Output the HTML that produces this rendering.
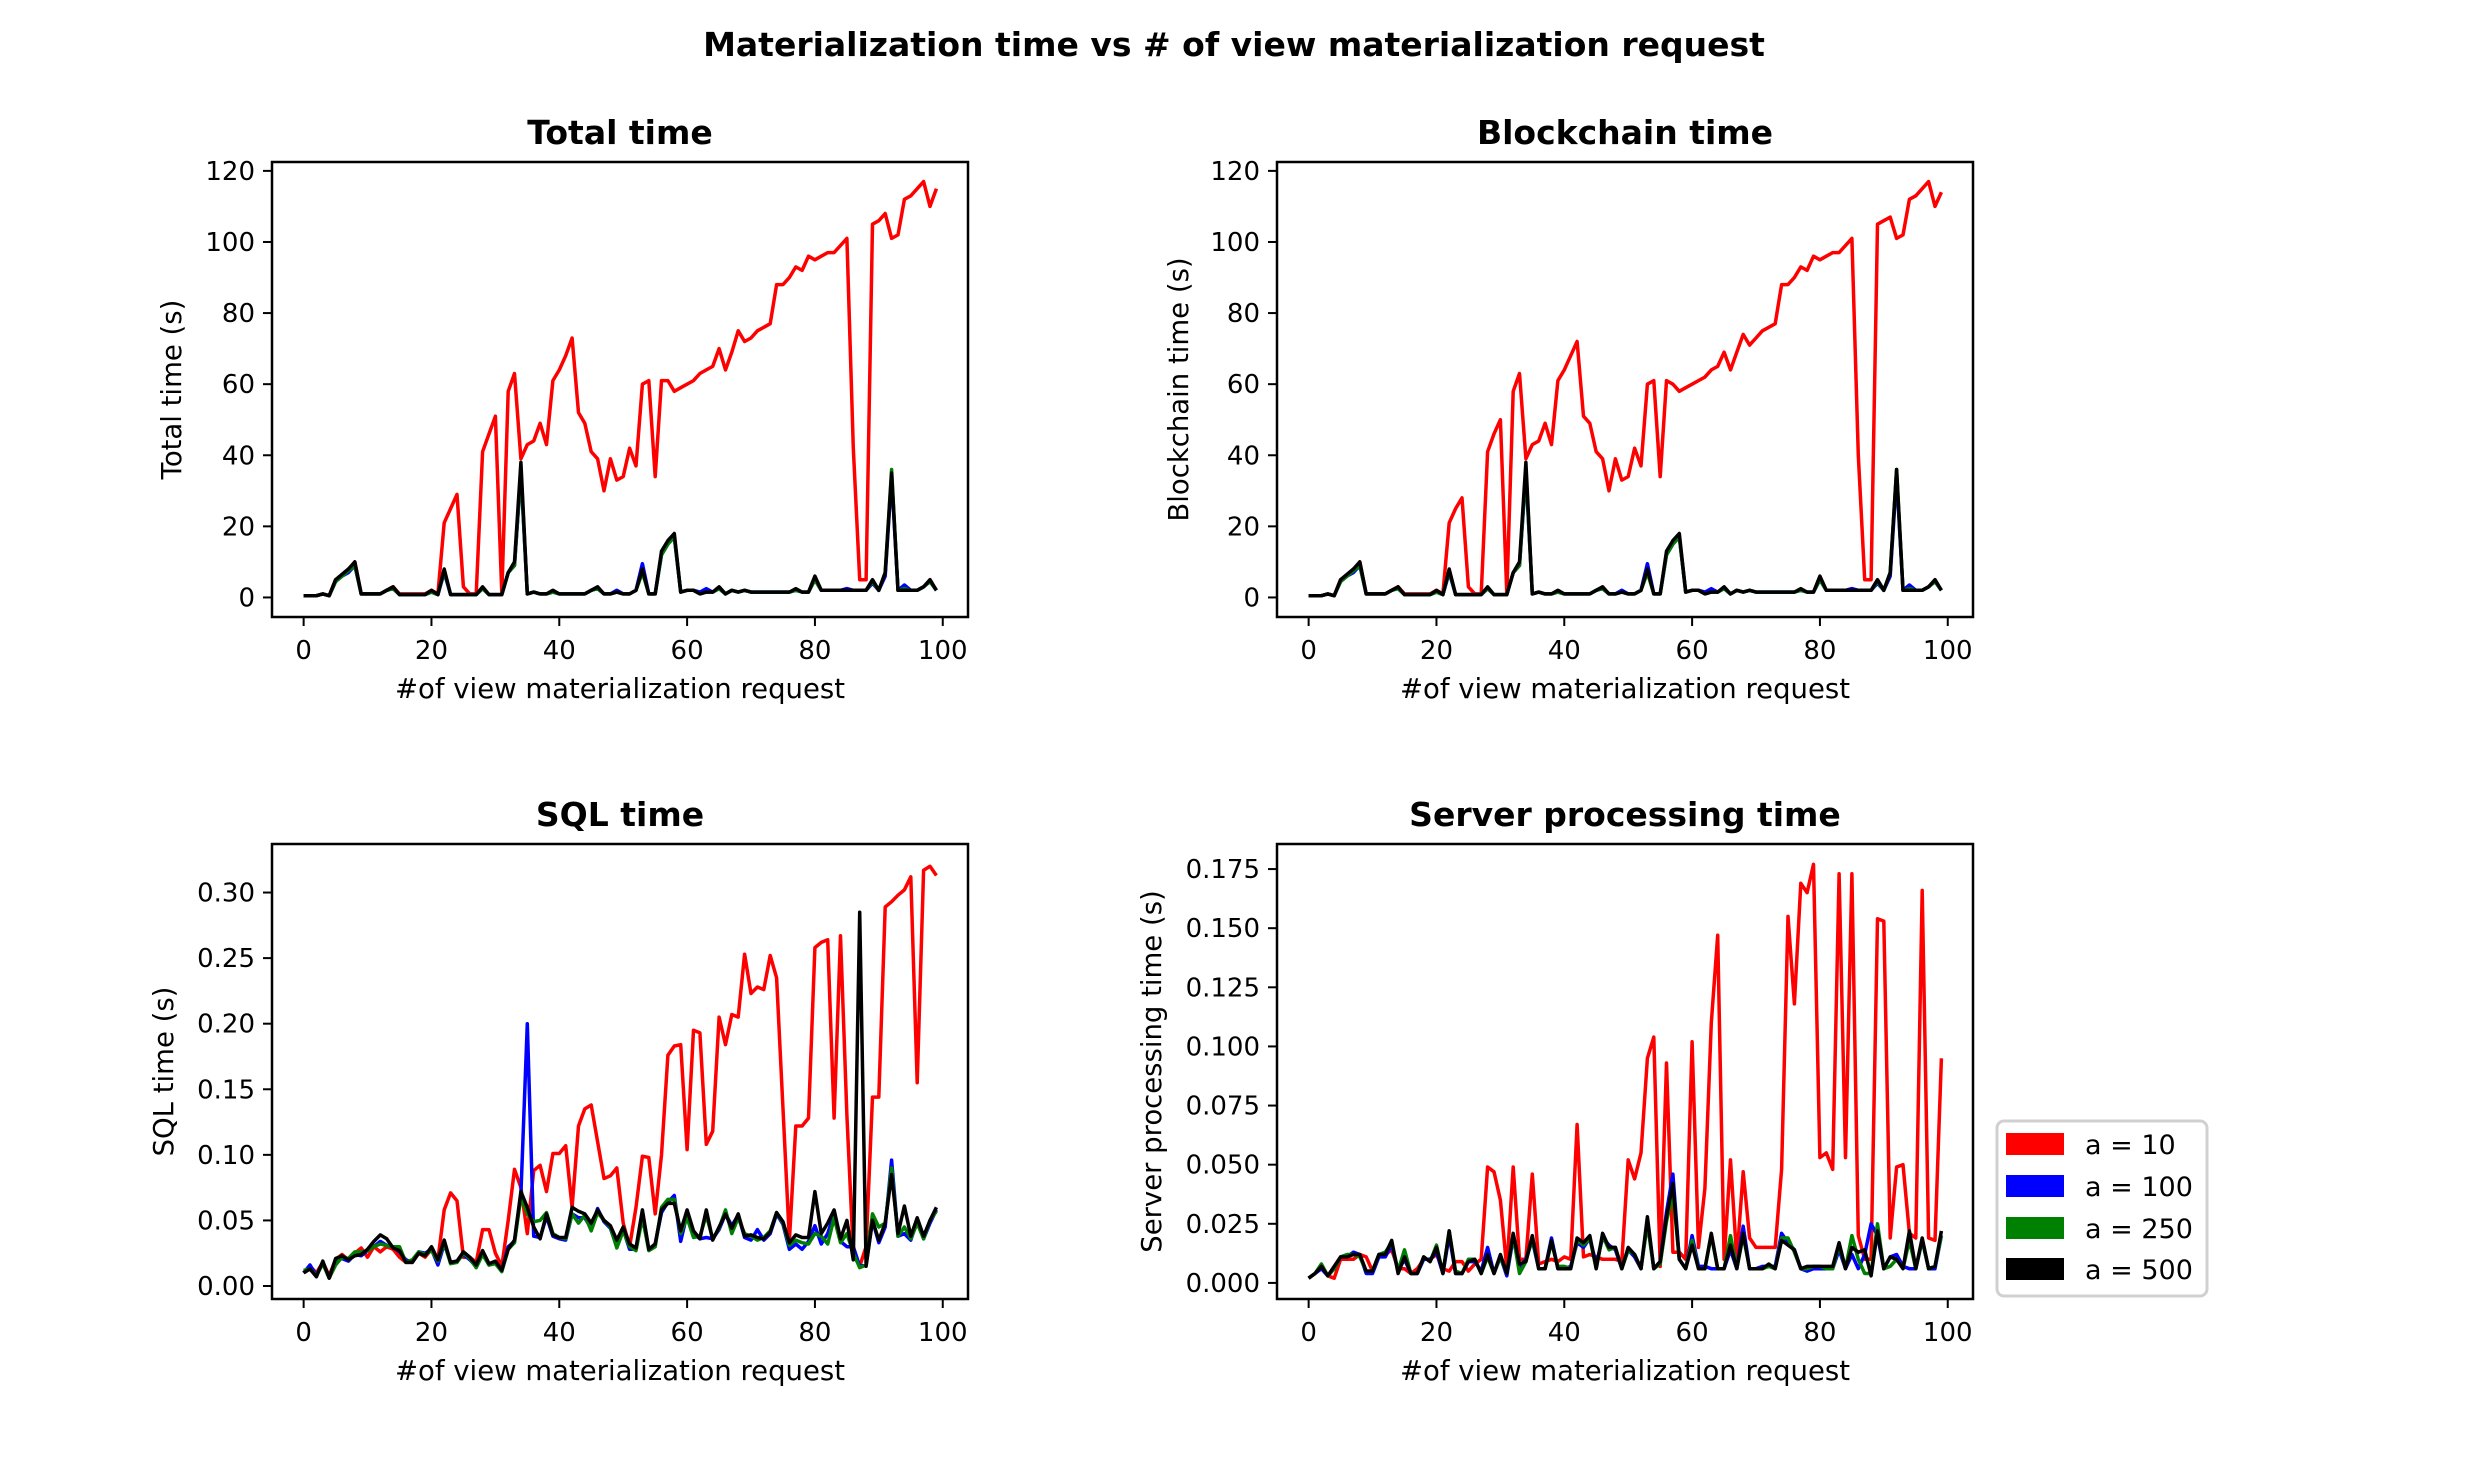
<!DOCTYPE html>
<html><head><meta charset="utf-8"><style>
html,body{margin:0;padding:0;background:#fff}
svg{display:block}
text{font-family:"DejaVu Sans","Liberation Sans",sans-serif;fill:#000}
</style></head><body>
<svg id="fig" width="2468" height="1478" viewBox="0 0 2468 1478" xmlns="http://www.w3.org/2000/svg">
<rect width="2468" height="1478" fill="#fff"/>
<text x="1234" y="56" text-anchor="middle" font-size="33" font-weight="bold">Materialization time vs # of view materialization request</text>
<g id="plots"></g>
<g>
<rect x="1997" y="1121" width="210" height="175" rx="7" fill="#fff" stroke="#d0d0d0" stroke-width="3"/>
<g><rect x="2006" y="1133" width="58" height="22" fill="#ff0000"/><text x="2085" y="1154" font-size="27">a = 10</text></g>
<g><rect x="2006" y="1175" width="58" height="22" fill="#0000ff"/><text x="2085" y="1196" font-size="27">a = 100</text></g>
<g><rect x="2006" y="1217" width="58" height="22" fill="#008000"/><text x="2085" y="1238" font-size="27">a = 250</text></g>
<g><rect x="2006" y="1258" width="58" height="22" fill="#000000"/><text x="2085" y="1279" font-size="27">a = 500</text></g>
</g>
</svg>
<script>
const xTicks = [0,20,40,60,80,100];
const totalTicks = [0,20,40,60,80,100,120];
const totalTickLabels = ["0","20","40","60","80","100","120"];
const sqlTicks = [0,0.05,0.10,0.15,0.20,0.25,0.30];
const sqlTickLabels = ["0.00","0.05","0.10","0.15","0.20","0.25","0.30"];
const serverTicks = [0,0.025,0.05,0.075,0.1,0.125,0.15,0.175];
const serverTickLabels = ["0.000","0.025","0.050","0.075","0.100","0.125","0.150","0.175"];

const totalA10 = [0.5,0.5,0.5,1,0.5,5,6,7.5,10,1,1,1,1,2,3,1,1,1,1,1,2,1,21,25,29,3,1,1,41,46,51,1,58,63,39,43,44,49,43,61,64,68,73,52,49,41,39,30,39,33,34,42,37,60,61,34,61,61,58,59,60,61,63,64,65,70,64,69,75,72,73,75,76,77,88,88,90,93,92,96,95,96,97,97,99,101,42,5,5,105,106,108,101,102,112,113,115,117,110,115];
const totalA500 = [0.5,0.5,0.5,1,0.5,5,6.5,8,10,1,1,1,1,2,3,0.8,0.8,0.8,0.8,0.8,2,0.8,8,0.8,0.8,0.8,0.8,0.8,3,0.8,0.8,0.8,7,10,38,1,1.5,1,1,2,1,1,1,1,1,2,3,1,1,1.5,1,1,2,8,1,1,13,16,18,1.5,2,2,1,1.5,1.5,3,1,2,1.5,2,1.5,1.5,1.5,1.5,1.5,1.5,1.5,2.5,1.5,1.5,6,2,2,2,2,2,2,2,2,5,2,7,35,2,2,2,2,3,5,2];
const totalA100 = [0.5,0.5,0.5,1,0.5,4.5,6,7,9,1,1,1,1,2,2.5,0.8,0.8,0.8,0.8,0.8,1.5,0.8,7,0.8,0.8,0.8,0.8,0.8,2.5,0.8,0.8,0.8,7,9,35,1,1.5,1,1,1.5,1,1,1,1,1,2,2.5,1,1,2,1,1,2,9.5,1,1,12,15,17,1.5,2,2,1.5,2.5,1.5,2.5,1,2,1.5,2,1.5,1.5,1.5,1.5,1.5,1.5,1.5,2,1.5,1.5,5,2,2,2,2,2.5,2,2,2,4,2,6,34,2,3.5,2,2,3,4.5,2];
const totalA250 = [0.5,0.5,0.5,1,0.5,4.5,6,7.5,9,1,1,1,1,2,2.5,0.8,0.8,0.8,0.8,0.8,1.5,0.8,7.5,0.8,0.8,0.8,0.8,0.8,2.5,0.8,0.8,0.8,7,9,36,1,1.5,1,1,1.5,1,1,1,1,1,2,2.5,1,1,1.5,1,1,2,7,1,1,12,15,17,1.5,2,2,1,1.5,1.5,2.5,1,2,1.5,2,1.5,1.5,1.5,1.5,1.5,1.5,1.5,2,1.5,1.5,5,2,2,2,2,2,2,2,2,4.5,2,7,36,2,2.5,2,2,3,4.5,2];

const blockA10 = [0.5,0.5,0.5,1,0.5,5,6,7.5,10,1,1,1,1,2,3,1,1,1,1,1,2,1,21,25,28,3,1,1,41,46,50,1,58,63,39,43,44,49,43,61,64,68,72,51,49,41,39,30,39,33,34,42,37,60,61,34,61,60,58,59,60,61,62,64,65,69,64,69,74,71,73,75,76,77,88,88,90,93,92,96,95,96,97,97,99,101,40,5,5,105,106,107,101,102,112,113,115,117,110,114];
const blockA500 = [0.5,0.5,0.5,1,0.5,5,6.5,8,10,1,1,1,1,2,3,0.8,0.8,0.8,0.8,0.8,2,0.8,8,0.8,0.8,0.8,0.8,0.8,3,0.8,0.8,0.8,7,10,38,1,1.5,1,1,2,1,1,1,1,1,2,3,1,1,1.5,1,1,2,8,1,1,13,16,18,1.5,2,2,1,1.5,1.5,3,1,2,1.5,2,1.5,1.5,1.5,1.5,1.5,1.5,1.5,2.5,1.5,1.5,6,2,2,2,2,2,2,2,2,5,2,7,36,2,2,2,2,3,5,2];
const blockA100 = [0.5,0.5,0.5,1,0.5,4.5,6,7,9,1,1,1,1,2,2.5,0.8,0.8,0.8,0.8,0.8,1.5,0.8,7,0.8,0.8,0.8,0.8,0.8,2.5,0.8,0.8,0.8,7,9,35,1,1.5,1,1,1.5,1,1,1,1,1,2,2.5,1,1,2,1,1,2,9.5,1,1,12,15,17,1.5,2,2,1.5,2.5,1.5,2.5,1,2,1.5,2,1.5,1.5,1.5,1.5,1.5,1.5,1.5,2,1.5,1.5,5,2,2,2,2,2.5,2,2,2,4,2,6,34,2,3.5,2,2,3,4.5,2];
const blockA250 = [0.5,0.5,0.5,1,0.5,4.5,6,7.5,9,1,1,1,1,2,2.5,0.8,0.8,0.8,0.8,0.8,1.5,0.8,7.5,0.8,0.8,0.8,0.8,0.8,2.5,0.8,0.8,0.8,7,9,36,1,1.5,1,1,1.5,1,1,1,1,1,2,2.5,1,1,1.5,1,1,2,7,1,1,12,15,17,1.5,2,2,1,1.5,1.5,2.5,1,2,1.5,2,1.5,1.5,1.5,1.5,1.5,1.5,1.5,2,1.5,1.5,5,2,2,2,2,2,2,2,2,4.5,2,7,36,2,2.5,2,2,3,4.5,2];

const sqlA10 = [0.010,0.015,0.010,0.018,0.008,0.020,0.024,0.020,0.025,0.029,0.022,0.030,0.026,0.030,0.028,0.022,0.018,0.018,0.025,0.022,0.028,0.020,0.058,0.071,0.065,0.022,0.022,0.018,0.043,0.043,0.025,0.015,0.050,0.089,0.075,0.040,0.088,0.092,0.072,0.101,0.101,0.107,0.060,0.122,0.135,0.138,0.110,0.082,0.084,0.090,0.048,0.030,0.060,0.099,0.098,0.055,0.100,0.176,0.183,0.184,0.104,0.195,0.193,0.108,0.118,0.205,0.184,0.207,0.205,0.253,0.223,0.228,0.226,0.252,0.235,0.135,0.035,0.122,0.122,0.128,0.258,0.262,0.264,0.128,0.267,0.130,0.025,0.015,0.030,0.144,0.144,0.289,0.293,0.298,0.302,0.312,0.155,0.317,0.320,0.313];
const sqlA500 = [0.010,0.013,0.007,0.019,0.006,0.021,0.023,0.020,0.023,0.024,0.028,0.034,0.039,0.036,0.029,0.027,0.018,0.018,0.025,0.023,0.030,0.020,0.035,0.018,0.019,0.026,0.022,0.016,0.027,0.017,0.019,0.012,0.028,0.035,0.072,0.060,0.045,0.036,0.055,0.039,0.037,0.037,0.060,0.057,0.055,0.048,0.058,0.050,0.046,0.035,0.045,0.032,0.029,0.058,0.028,0.032,0.058,0.063,0.063,0.042,0.058,0.042,0.036,0.058,0.035,0.045,0.055,0.044,0.055,0.038,0.039,0.037,0.036,0.041,0.056,0.049,0.033,0.039,0.037,0.037,0.072,0.040,0.048,0.058,0.036,0.050,0.020,0.285,0.015,0.050,0.035,0.048,0.085,0.040,0.061,0.038,0.052,0.038,0.050,0.060];
const sqlA100 = [0.010,0.016,0.008,0.018,0.006,0.019,0.021,0.019,0.024,0.023,0.027,0.030,0.034,0.031,0.030,0.026,0.020,0.018,0.026,0.025,0.028,0.016,0.032,0.018,0.019,0.024,0.020,0.015,0.025,0.016,0.018,0.012,0.030,0.034,0.070,0.200,0.038,0.037,0.053,0.038,0.036,0.035,0.055,0.052,0.052,0.044,0.059,0.049,0.044,0.030,0.043,0.028,0.028,0.055,0.028,0.032,0.056,0.064,0.069,0.034,0.055,0.040,0.036,0.037,0.036,0.043,0.055,0.046,0.054,0.037,0.035,0.043,0.035,0.040,0.055,0.047,0.028,0.032,0.028,0.034,0.046,0.032,0.040,0.055,0.034,0.030,0.030,0.015,0.016,0.050,0.033,0.045,0.096,0.038,0.040,0.035,0.050,0.036,0.048,0.058];
const sqlA250 = [0.012,0.013,0.008,0.017,0.006,0.016,0.022,0.021,0.026,0.026,0.027,0.030,0.032,0.031,0.030,0.030,0.018,0.020,0.026,0.024,0.027,0.019,0.033,0.017,0.018,0.025,0.021,0.014,0.024,0.016,0.017,0.011,0.028,0.033,0.068,0.055,0.049,0.050,0.056,0.040,0.037,0.036,0.055,0.048,0.054,0.042,0.056,0.050,0.045,0.029,0.042,0.030,0.027,0.052,0.027,0.030,0.060,0.066,0.066,0.040,0.052,0.037,0.038,0.054,0.036,0.044,0.058,0.040,0.052,0.040,0.038,0.035,0.037,0.042,0.056,0.048,0.031,0.035,0.033,0.032,0.040,0.038,0.032,0.052,0.033,0.040,0.025,0.014,0.016,0.055,0.045,0.048,0.090,0.038,0.045,0.036,0.048,0.036,0.050,0.057];

const serverA10 = [0.002,0.004,0.007,0.003,0.002,0.010,0.010,0.010,0.012,0.011,0.005,0.012,0.012,0.014,0.006,0.006,0.004,0.006,0.010,0.010,0.012,0.006,0.005,0.009,0.009,0.005,0.008,0.010,0.049,0.047,0.035,0.006,0.049,0.010,0.010,0.046,0.008,0.009,0.010,0.009,0.011,0.010,0.067,0.011,0.012,0.011,0.010,0.010,0.010,0.009,0.052,0.044,0.055,0.095,0.104,0.007,0.093,0.013,0.013,0.010,0.102,0.015,0.040,0.110,0.147,0.010,0.052,0.010,0.047,0.019,0.015,0.015,0.015,0.015,0.048,0.155,0.118,0.169,0.165,0.177,0.053,0.055,0.048,0.173,0.053,0.173,0.020,0.010,0.010,0.154,0.153,0.019,0.049,0.050,0.021,0.019,0.166,0.019,0.018,0.095];
const serverA500 = [0.002,0.004,0.007,0.003,0.007,0.011,0.011,0.012,0.012,0.005,0.005,0.012,0.012,0.018,0.004,0.011,0.004,0.004,0.011,0.009,0.015,0.004,0.022,0.004,0.004,0.009,0.010,0.004,0.012,0.004,0.012,0.004,0.021,0.008,0.009,0.020,0.006,0.006,0.018,0.006,0.006,0.006,0.019,0.017,0.020,0.006,0.021,0.015,0.015,0.006,0.015,0.012,0.006,0.028,0.006,0.009,0.028,0.042,0.010,0.006,0.016,0.006,0.006,0.021,0.006,0.006,0.016,0.006,0.021,0.006,0.006,0.006,0.008,0.006,0.018,0.016,0.014,0.006,0.007,0.007,0.007,0.007,0.007,0.017,0.006,0.015,0.013,0.014,0.003,0.022,0.006,0.011,0.010,0.006,0.022,0.006,0.019,0.006,0.007,0.022];
const serverA100 = [0.002,0.004,0.006,0.003,0.006,0.011,0.011,0.013,0.012,0.004,0.004,0.011,0.011,0.016,0.005,0.010,0.004,0.004,0.010,0.010,0.013,0.004,0.020,0.004,0.004,0.009,0.009,0.005,0.015,0.004,0.011,0.003,0.019,0.007,0.010,0.018,0.006,0.006,0.019,0.006,0.006,0.007,0.017,0.015,0.019,0.008,0.019,0.016,0.014,0.006,0.014,0.011,0.006,0.026,0.006,0.009,0.030,0.046,0.010,0.006,0.020,0.007,0.007,0.006,0.006,0.006,0.014,0.006,0.024,0.006,0.006,0.007,0.007,0.007,0.021,0.017,0.014,0.006,0.005,0.006,0.006,0.006,0.006,0.014,0.006,0.012,0.006,0.012,0.025,0.020,0.006,0.011,0.012,0.007,0.006,0.006,0.018,0.006,0.006,0.020];
const serverA250 = [0.002,0.004,0.008,0.003,0.006,0.011,0.012,0.012,0.011,0.005,0.005,0.012,0.013,0.017,0.005,0.014,0.004,0.004,0.011,0.009,0.016,0.004,0.022,0.005,0.004,0.010,0.010,0.004,0.011,0.004,0.011,0.004,0.020,0.004,0.009,0.019,0.006,0.006,0.017,0.007,0.007,0.006,0.018,0.016,0.019,0.006,0.020,0.014,0.015,0.006,0.014,0.012,0.006,0.025,0.006,0.008,0.026,0.038,0.010,0.006,0.018,0.006,0.006,0.020,0.006,0.006,0.020,0.006,0.020,0.006,0.006,0.006,0.007,0.006,0.019,0.019,0.013,0.006,0.006,0.007,0.007,0.006,0.006,0.016,0.006,0.020,0.010,0.004,0.004,0.025,0.006,0.007,0.010,0.006,0.018,0.006,0.018,0.006,0.007,0.020];

const NS = 'http://www.w3.org/2000/svg';
const plots = document.getElementById('plots');
function mk(tag, attrs, parent){ const e=document.createElementNS(NS,tag); for(const k in attrs) e.setAttribute(k,attrs[k]); (parent||plots).appendChild(e); return e; }

const panels = [
 {key:'total', title:'Total time', ylabel:'Total time (s)', left:272, top:162, w:696, h:455, ymin:-5.5, ymax:122.5, ticks:totalTicks, labels:totalTickLabels, series:[totalA10,totalA100,totalA250,totalA500], ylx:172},
 {key:'blockchain', title:'Blockchain time', ylabel:'Blockchain time (s)', left:1277, top:162, w:696, h:455, ymin:-5.5, ymax:122.5, ticks:totalTicks, labels:totalTickLabels, series:[blockA10,blockA100,blockA250,blockA500], ylx:1179},
 {key:'sql', title:'SQL time', ylabel:'SQL time (s)', left:272, top:844, w:696, h:455, ymin:-0.0099, ymax:0.337, ticks:sqlTicks, labels:sqlTickLabels, series:[sqlA10,sqlA100,sqlA250,sqlA500], ylx:164},
 {key:'server', title:'Server processing time', ylabel:'Server processing time (s)', left:1277, top:844, w:696, h:455, ymin:-0.0068, ymax:0.1856, ticks:serverTicks, labels:serverTickLabels, series:[serverA10,serverA100,serverA250,serverA500], ylx:1152}
];
const colors = ['#ff0000','#0000ff','#008000','#000000'];
const seriesNames = ['a10','a100','a250','a500'];

panels.forEach(p=>{
  const g = mk('g',{});
  
  
  const xmin=-4.95, xmax=103.95;
  const xs = v => p.left + (v - xmin)/(xmax-xmin)*p.w;
  const ys = v => p.top + p.h - (v - p.ymin)/(p.ymax-p.ymin)*p.h;
  const bottom = p.top + p.h;
  p.series.forEach((arr,si)=>{
    const pts = arr.map((v,i)=>xs(i).toFixed(1)+','+ys(v).toFixed(1)).join(' ');
    const pl = mk('polyline',{points:pts, fill:'none', stroke:colors[si], 'stroke-width':3.5, 'stroke-linejoin':'round'}, g);
    
    
  });
  const frame = mk('rect',{x:p.left,y:p.top,width:p.w,height:p.h,fill:'none',stroke:'#000','stroke-width':2.5}, g);
  
  
  xTicks.forEach(t=>{
    const x = xs(t);
    mk('line',{x1:x,y1:bottom,x2:x,y2:bottom+9,stroke:'#000','stroke-width':2}, g);
    const tx = mk('text',{x:x,y:bottom+42,'text-anchor':'middle','font-size':26}, g);
    tx.textContent = String(t);
    
    
  });
  p.ticks.forEach((t,i)=>{
    const y = ys(t);
    mk('line',{x1:p.left-9,y1:y,x2:p.left,y2:y,stroke:'#000','stroke-width':2}, g);
    const ty = mk('text',{x:p.left-17,y:y+9,'text-anchor':'end','font-size':26}, g);
    ty.textContent = p.labels[i];
    
    
  });
  const tt = mk('text',{x:p.left+p.w/2,y:p.top-18,'text-anchor':'middle','font-size':33,'font-weight':'bold'}, g);
  tt.textContent = p.title;
  
  
  const xl = mk('text',{x:p.left+p.w/2,y:bottom+81,'text-anchor':'middle','font-size':27.5}, g);
  xl.textContent = '#of view materialization request';
  
  
  const cy = p.top+p.h/2;
  const yl = mk('text',{x:p.ylx,y:cy,'text-anchor':'middle','dominant-baseline':'central','font-size':27.5,transform:'rotate(-90 '+p.ylx+' '+cy+')'}, g);
  yl.textContent = p.ylabel;
  
  
});
</script>
</body></html>
